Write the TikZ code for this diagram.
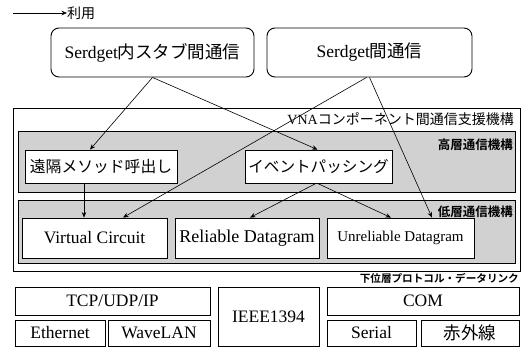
\documentclass[tikz,border=0pt]{standalone}
\usepackage{fontspec}
\setmainfont{Liberation Serif}
\newfontfamily\jp{Noto Sans CJK JP}
\newfontfamily\jpb{Noto Sans CJK JP Bold}
\usetikzlibrary{arrows.meta}
\tikzset{
  box/.style={draw=black, line width=0.8pt, fill=white, inner sep=0pt, font=\fontsize{17.5}{19}\selectfont},
  topbox/.style={box, rounded corners=8pt, line width=0.9pt},
  band/.style={draw=black, line width=0.7pt, fill=black!18, inner sep=0pt},
  frame/.style={draw=black, line width=1pt, fill=white, inner sep=0pt},
  lbl/.style={inner sep=0pt, font=\jpb\fontsize{12.5}{13}\selectfont},
  use/.style={draw=black, line width=0.6pt, -{Stealth[length=5.5pt,width=4.5pt]}},
}
\begin{document}
\begin{tikzpicture}[x=1pt,y=-1pt]
\useasboundingbox (0,0) rectangle (528,350);
% legend
\coordinate (lega) at (13,13);
\node[anchor=west, inner sep=0pt, font=\jp\fontsize{14}{15}\selectfont] (legt) at (67,13) {利用};
\draw[use] (lega) -- (legt.west);
% top boxes
\node[topbox, minimum width=203pt, minimum height=49pt] (top1) at (152.5,52.5) {Serdget{\jp 内スタブ間通信}};
\node[topbox, minimum width=205pt, minimum height=49pt] (top2) at (369.5,52.5) {Serdget{\jp 間通信}};
% outer frame
\node[frame, minimum width=507pt, minimum height=162pt] (outer) at (266.5,190) {};
\node[lbl, anchor=east, font=\fontsize{14}{15}\selectfont] (vna) at (514,119) {VNA{\jp コンポーネント間通信支援機構}};
% bands
\node[band, minimum width=497pt, minimum height=61pt] (upper) at (266.5,161.5) {};
\node[band, minimum width=497pt, minimum height=63pt] (lower) at (266.5,231.5) {};
\node[lbl, anchor=east] (hl) at (513,145) {高層通信機構};
\node[lbl, anchor=east] (ll) at (513,212) {低層通信機構};
% high-level boxes
\node[box, minimum width=152pt, minimum height=33pt, font=\jp\fontsize{15.8}{17}\selectfont] (remote) at (101,166.5) {遠隔メソッド呼出し};
\node[box, minimum width=147pt, minimum height=33pt, font=\jp\fontsize{15.6}{17}\selectfont] (event) at (318.5,166.5) {イベントパッシング};
% low-level boxes
\node[box, minimum width=145pt, minimum height=40pt] (vc) at (94.5,238) {Virtual Circuit};
\node[box, minimum width=144pt, minimum height=40pt, font=\fontsize{18}{19}\selectfont] (rd) at (247,238) {Reliable Datagram};
\node[box, minimum width=147pt, minimum height=40pt, font=\fontsize{15}{16}\selectfont] (ud) at (400.5,238) {Unreliable Datagram};
% lower protocols
\node[lbl, anchor=east, font=\jpb\fontsize{10.6}{11}\selectfont] (dl) at (519,278) {下位層プロトコル・データリンク};
\node[box, minimum width=195pt, minimum height=28pt] (tcp) at (112.5,301) {TCP/UDP/IP};
\node[box, minimum width=90pt, minimum height=26pt] (eth) at (60,333) {Ethernet};
\node[box, minimum width=102pt, minimum height=26pt] (wave) at (159,333) {WaveLAN};
\node[box, minimum width=101pt, minimum height=59pt] (ieee) at (268.5,316.5) {IEEE1394};
\node[box, minimum width=192pt, minimum height=28pt] (com) at (423,301) {COM};
\node[box, minimum width=89pt, minimum height=26pt] (serial) at (371.5,333) {Serial};
\node[box, minimum width=98pt, minimum height=26pt] (ir) at (470,333) {\jp 赤外線};
% connectors
\draw[use] (top1.south) -- ([xshift=-11pt]remote.north);
\draw[use] (top1.south) -- ([xshift=-1pt]event.north);
\draw[use] ([xshift=-3pt]top2.south) -- ([xshift=28.5pt]vc.north);
\draw[use] (top2.south) -- ([xshift=31.5pt]ud.north);
\draw[use] ([xshift=-17pt]remote.south) -- ([xshift=-10.5pt]vc.north);
\draw[use] ([xshift=-2.5pt]event.south) -- ([xshift=3pt]rd.north);
\draw[use] ([xshift=-1pt]event.south) -- ([xshift=-9.5pt]ud.north);
\end{tikzpicture}
\end{document}
